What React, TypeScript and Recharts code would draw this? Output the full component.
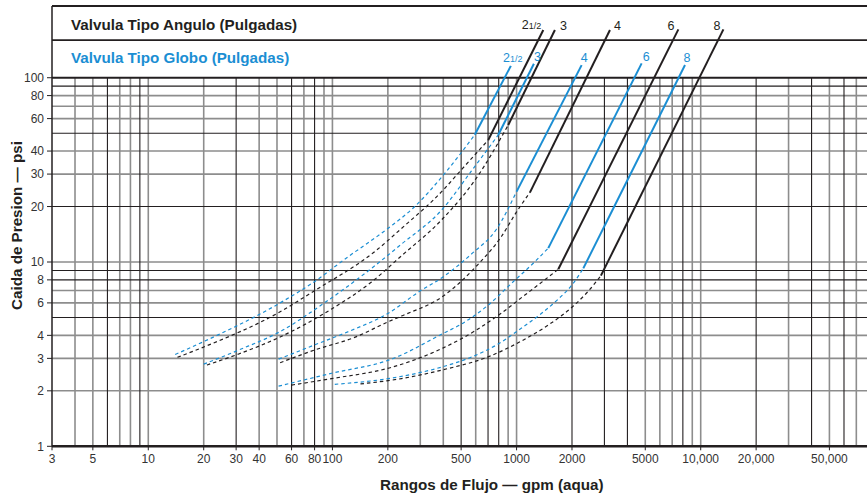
import React from 'react'
import { LineChart, Line, XAxis, YAxis, ReferenceLine } from 'recharts'

const BLUE = '#1b8ed3'
const BLACK = '#231f20'
const GRAY = '#8d8d8d'
const FONT = '"Liberation Sans", Arial, Helvetica, sans-serif'

const xTicks = [3, 5, 10, 20, 30, 40, 60, 80, 100, 200, 500, 1000, 2000, 5000, 10000, 20000, 50000]
const yTicks = [1, 2, 3, 4, 6, 8, 10, 20, 30, 40, 60, 80, 100]

// log paper rulings (some printed darker than others)
const xGridDark = [6, 9, 30, 60, 80, 500, 700, 800, 2000, 3000, 4000, 8000, 20000, 40000, 60000]
const xGridLight = [4, 5, 7, 8, 10, 20, 40, 50, 70, 90, 100, 200, 300, 400, 600, 900, 1000, 5000, 6000, 7000, 9000, 10000, 30000, 50000, 70000]
const yGridDark = [5, 8, 9, 20, 50, 90]
const yGridLight = [2, 3, 4, 6, 7, 10, 30, 40, 60, 70, 80]

// globe valves (blue): dashed low-flow curve, then straight rated line
const globe25Curve = [[14, 3.15], [20, 3.7], [52, 6], [78, 7.7], [122, 10.7], [200, 15.2], [280, 20], [400, 29.6], [593, 49]]
const globe25Line = [[593, 49], [931, 116]]
const globe3Curve = [[20, 2.79], [31, 3.33], [52, 4.19], [87, 5.84], [163, 9.24], [237, 12.5], [391, 19.1], [569, 31.2], [795, 48.9]]
const globe3Line = [[795, 48.9], [1242, 119]]
const globe4Curve = [[51, 2.97], [80, 3.55], [122, 4.19], [201, 5.27], [292, 6.85], [400, 8.32], [569, 11.05], [779, 15.1], [1000, 24.1]]
const globe4Line = [[1000, 24.1], [2256, 117]]
const globe6Curve = [[51, 2.12], [99, 2.49], [209, 2.97], [400, 4.1], [502, 4.61], [702, 5.84], [939, 7.66], [1257, 10.04], [1487, 11.9]]
const globe6Line = [[1487, 11.9], [4778, 119.7]]
const globe8Curve = [[103, 2.17], [201, 2.33], [391, 2.69], [569, 3.05], [795, 3.59], [1065, 4.38], [1368, 5.27], [1685, 6.3], [1990, 7.46], [2304, 9.24]]
const globe8Line = [[2304, 9.24], [8216, 117.2]]

// angle valves (black)
const angle25Curve = [[14.4, 3.04], [20.2, 3.47], [52, 5.37], [80, 6.99], [170, 11.4], [237, 15.2], [400, 24.6], [482, 30.3], [702, 45.9]]
const angle25Line = [[702, 45.9], [1397, 181.5]]
const angle3Curve = [[20.8, 2.76], [31, 3.17], [52, 3.92], [99, 5.56], [163, 7.79], [237, 10.8], [391, 16.9], [606, 28.6], [901, 55.4]]
const angle3Line = [[901, 55.4], [1615, 181.5]]
const angle4Curve = [[52, 2.84], [80, 3.33], [132, 3.9], [201, 4.74], [237, 5.09], [400, 6.54], [606, 9.51], [829, 13.8], [1000, 18.7], [1181, 23.8]]
const angle4Line = [[1181, 23.8], [3215, 181.5]]
const angle6Curve = [[60, 2.15], [99, 2.33], [209, 2.68], [400, 3.42], [606, 4.28], [829, 5.29], [1110, 6.62], [1420, 7.99], [1685, 9.13]]
const angle6Line = [[1685, 9.13], [7564, 183]]
const angle8Curve = [[142, 2.18], [237, 2.33], [391, 2.59], [702, 3.06], [1065, 3.73], [1487, 4.55], [2033, 5.77], [2401, 6.79], [2872, 8.43]]
const angle8Line = [[2872, 8.43], [13285, 183]]

const pts = (arr: number[][]) => arr.map(([x, y]) => ({ x, y }))

const valves = [
  { id: 'g25', size: '2½', color: BLUE, curve: globe25Curve, line: globe25Line, dx: 2, dy: -4, anchor: 'middle' },
  { id: 'g3', size: '3', color: BLUE, curve: globe3Curve, line: globe3Line, dx: 0, dy: -2.5, anchor: 'start' },
  { id: 'g4', size: '4', color: BLUE, curve: globe4Curve, line: globe4Line, dx: -1, dy: -3.5, anchor: 'start' },
  { id: 'g6', size: '6', color: BLUE, curve: globe6Curve, line: globe6Line, dx: 1, dy: -2.6, anchor: 'start' },
  { id: 'g8', size: '8', color: BLUE, curve: globe8Curve, line: globe8Line, dx: -1.5, dy: -3.3, anchor: 'start' },
  { id: 'a25', size: '2½', color: BLACK, curve: angle25Curve, line: angle25Line, dx: -2, dy: -1, anchor: 'end' },
  { id: 'a3', size: '3', color: BLACK, curve: angle3Curve, line: angle3Line, dx: 5, dy: 0, anchor: 'start' },
  { id: 'a4', size: '4', color: BLACK, curve: angle4Curve, line: angle4Line, dx: 4, dy: 0, anchor: 'start' },
  { id: 'a6', size: '6', color: BLACK, curve: angle6Curve, line: angle6Line, dx: -4, dy: 1, anchor: 'end' },
  { id: 'a8', size: '8', color: BLACK, curve: angle8Curve, line: angle8Line, dx: -3, dy: 1, anchor: 'end' },
]

const fmtX = (v: number) => (v >= 10000 ? v.toLocaleString('en-US') : String(v))

const sizeLabel = (v: any) => (props: any) => {
  if (props.index !== 1) return null
  const half = v.size === '2½'
  return (
    <text
      key={v.id + '-lbl'}
      x={props.x + v.dx}
      y={props.y + v.dy}
      textAnchor={v.anchor}
      fill={v.color}
      fontSize={12.5}
      fontFamily={FONT}
    >
      {half ? '2' : v.size}
      {half && <tspan fontSize={9}>1/2</tspan>}
    </text>
  )
}

const titleStyle: React.CSSProperties = {
  position: 'absolute',
  fontSize: 15.2,
  lineHeight: '17px',
  fontWeight: 'bold',
  color: BLACK,
  whiteSpace: 'nowrap',
}

export default function App() {
  return (
    <div style={{ position: 'relative', width: 867, height: 497, background: '#fff', fontFamily: FONT }}>
      <style>{'body{margin:0}'}</style>
      <LineChart width={867} height={497} margin={{ top: 6, right: 0, bottom: 0, left: 6 }}>
        <XAxis
          dataKey="x"
          type="number"
          scale="log"
          domain={[3, 80000]}
          allowDataOverflow
          ticks={xTicks}
          tickFormatter={fmtX}
          interval={0}
          height={50.7}
          tickSize={4}
          tickMargin={4}
          tick={{ fill: '#333', fontSize: 12, fontFamily: FONT }}
          axisLine={{ stroke: BLACK, strokeWidth: 2.5 }}
          tickLine={{ stroke: BLACK }}
        />
        <YAxis
          dataKey="y"
          type="number"
          scale="log"
          domain={[1, 245]}
          allowDataOverflow
          ticks={yTicks}
          interval={0}
          width={46}
          tickSize={5}
          tickMargin={3}
          tick={{ fill: '#333', fontSize: 12, fontFamily: FONT }}
          axisLine={{ stroke: BLACK, strokeWidth: 1.5 }}
          tickLine={{ stroke: BLACK }}
        />

        {xGridLight.map((v) => (
          <ReferenceLine key={'xl' + v} segment={[{ x: v, y: 1 }, { x: v, y: 100 }]} stroke={GRAY} strokeWidth={1.6} />
        ))}
        {yGridLight.map((v) => (
          <ReferenceLine key={'yl' + v} y={v} stroke={GRAY} strokeWidth={1.6} />
        ))}
        {xGridDark.map((v) => (
          <ReferenceLine key={'xd' + v} segment={[{ x: v, y: 1 }, { x: v, y: 100 }]} stroke={BLACK} strokeWidth={1.1} />
        ))}
        {yGridDark.map((v) => (
          <ReferenceLine key={'yd' + v} y={v} stroke={BLACK} strokeWidth={1.1} />
        ))}

        {/* header boxes above the 100 psi line */}
        <ReferenceLine y={100} stroke={BLACK} strokeWidth={2} />
        <ReferenceLine y={160} stroke={BLACK} strokeWidth={1.8} />
        <ReferenceLine y={245} stroke={BLACK} strokeWidth={2} />

        {valves.map((v) => (
          <Line
            key={v.id + 'c'}
            data={pts(v.curve)}
            dataKey="y"
            type="monotone"
            stroke={v.color}
            strokeWidth={1.2}
            strokeDasharray="3.5 3"
            dot={false}
            activeDot={false}
            isAnimationActive={false}
          />
        ))}
        {valves.map((v) => (
          <Line
            key={v.id + 'l'}
            data={pts(v.line)}
            dataKey="y"
            type="linear"
            stroke={v.color}
            strokeWidth={2}
            dot={false}
            activeDot={false}
            label={sizeLabel(v)}
            isAnimationActive={false}
          />
        ))}
      </LineChart>

      <div style={{ ...titleStyle, left: 71, top: 15.5 }}>Valvula Tipo Angulo (Pulgadas)</div>
      <div style={{ ...titleStyle, left: 71, top: 49, color: BLUE }}>Valvula Tipo Globo (Pulgadas)</div>
      <div style={{ ...titleStyle, left: 380, top: 475.5 }}>Rangos de Flujo — gpm (aqua)</div>
      <div
        style={{
          ...titleStyle,
          left: -84,
          top: 216.5,
          width: 200,
          textAlign: 'center',
          transform: 'rotate(-90deg)',
        }}
      >
        Caida de Presion — psi
      </div>
    </div>
  )
}
